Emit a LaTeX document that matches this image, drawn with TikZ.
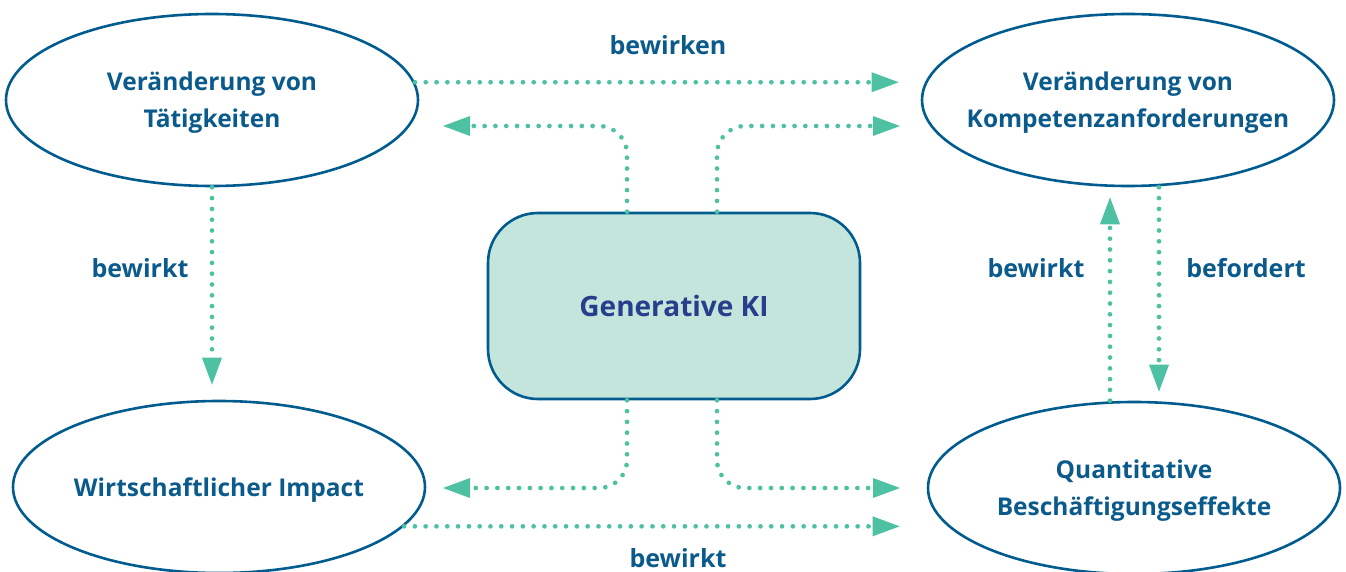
\documentclass[tikz,border=0pt]{standalone}
\usepackage{fontspec}
\setmainfont{Open Sans}
\usetikzlibrary{shapes.geometric,arrows.meta}
\definecolor{edgeblue}{HTML}{005C8F}
\definecolor{txtblue}{HTML}{0B5A8C}
\definecolor{kiblue}{HTML}{263F8C}
\definecolor{kifill}{HTML}{C4E5DC}
\definecolor{linkteal}{HTML}{4FC1A3}
\begin{document}
\begin{tikzpicture}[x=1pt,y=-1pt,
  topic/.style={ellipse,draw=edgeblue,line width=2.6pt,inner xsep=-40pt,inner ysep=0pt,
    minimum width=412pt,minimum height=172pt,align=center,text depth=0pt,
    font=\fontsize{24.5}{37}\selectfont\bfseries,text=txtblue},
  link/.style={draw=linkteal,line width=4.7pt,line cap=round,
    dash pattern=on 0pt off 10.8pt,
    -{Triangle[length=27pt,width=20pt,fill=linkteal,line width=0pt]}},
  lbl/.style={font=\fontsize{25}{29}\selectfont\bfseries,text=txtblue,inner sep=0pt}]
\useasboundingbox (0,0) rectangle (1346,572);

% the four effect areas
\node[topic] (act)  at (212,100) {Veränderung von\\Tätigkeiten};
\node[topic] (comp) at (1128,100) {Veränderung von\\Kompetenzanforderungen};
\node[topic] (econ) at (219,487) {Wirtschaftlicher Impact};
\node[topic] (jobs) at (1134,488) {Quantitative\\Beschäftigungseffekte};

% the driver in the middle
\node[draw=edgeblue,fill=kifill,line width=2.6pt,rounded corners=50pt,
  minimum width=372pt,minimum height=186pt,text depth=0pt,
  font=\fontsize{28}{33}\selectfont\bfseries,text=kiblue] (ki) at (674,306) {Generative KI};

% free ends of the branches leaving the driver
\coordinate (tl) at (443,126);
\coordinate (tr) at (900,126);
\coordinate (bl) at (443,488);
\coordinate (br) at (900,488);

% branches from the driver
\draw[link,rounded corners=28pt] ([xshift=-47pt]ki.north) |- (tl);
\draw[link,rounded corners=28pt] ([xshift=43pt]ki.north) |- (tr);
\draw[link,rounded corners=28pt] ([xshift=-47pt]ki.south) |- (bl);
\draw[link,rounded corners=28pt] ([xshift=43pt]ki.south) |- (br);

% effects between the areas
\draw[link,shorten >=22pt] (act.5) -- (act.5 -| comp.west);
\draw[link,shorten >=27pt] (econ.-12.8) -- (econ.-12.8 -| jobs.west);
\draw[link,shorten >=15pt] (act.south) -- (act.south |- econ.north);
\draw[link,shorten >=10pt] ([xshift=-24pt]jobs.north) -- ([xshift=-24pt]jobs.north |- comp.south);
\draw[link,shorten >=9pt] ([xshift=31pt]comp.south) -- ([xshift=31pt]comp.south |- jobs.north);

% labels of the effects
\node[lbl] (l1) at (668,45) {bewirken};
\node[lbl] (l2) at (140,268) {bewirkt};
\node[lbl] (l3) at (1036,268) {bewirkt};
\node[lbl] (l4) at (1246,268) {befordert};
\node[lbl] (l5) at (678,558) {bewirkt};
\end{tikzpicture}
\end{document}
